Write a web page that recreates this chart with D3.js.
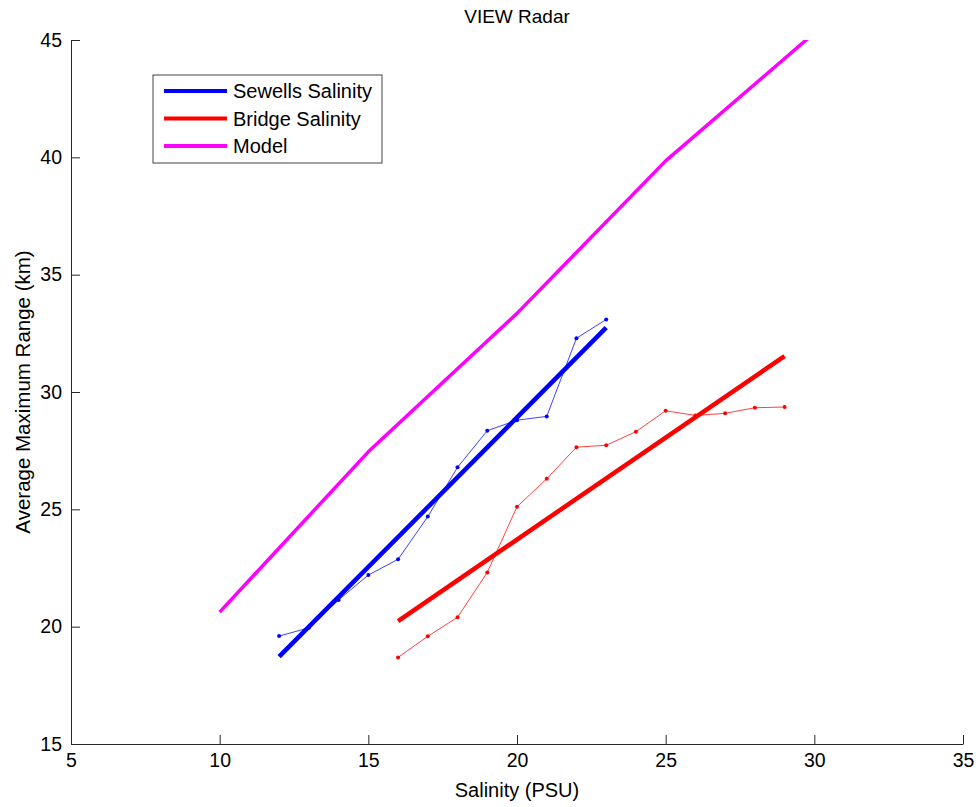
<!DOCTYPE html>
<html>
<head>
<meta charset="utf-8">
<script src="https://cdn.jsdelivr.net/npm/d3@7"></script>
<style>
  body { margin: 0; background: #fff; }
  svg { display: block; font-family: "Liberation Sans", Arial, sans-serif; }
</style>
</head>
<body>
<svg id="chart" width="979" height="807"></svg>
<script>
// measured salinity vs range
const sewellsX = [12, 13, 14, 15, 16, 17, 18, 19, 20, 21, 22, 23];
const sewellsY = [19.6, 19.95, 21.14, 22.2, 22.87, 24.69, 26.79, 28.35, 28.8, 28.96, 32.29, 33.09];
const bridgeX = [16, 17, 18, 19, 20, 21, 22, 23, 24, 25, 26, 27, 28, 29];
const bridgeY = [18.69, 19.59, 20.4, 22.31, 25.11, 26.3, 27.65, 27.73, 28.31, 29.2, 29.0, 29.09, 29.33, 29.36];

// fitted lines (end points)
const sewellsFitX = [12, 23];
const sewellsFitY = [18.72, 32.74];
const bridgeFitX = [16, 29];
const bridgeFitY = [20.24, 31.53];

// model curve
const modelX = [10, 15, 20, 25, 30];
const modelY = [20.62, 27.45, 33.35, 39.85, 45.3];

const xTicks = [5, 10, 15, 20, 25, 30, 35];
const yTicks = [15, 20, 25, 30, 35, 40, 45];

const legendLabels = ["Sewells Salinity", "Bridge Salinity", "Model"];
const legendColors = ["#0000ff", "#ff0000", "#ff00ff"];

const margin = { top: 40, right: 16, bottom: 63, left: 71 },
  width = 979 - margin.left - margin.right,
  height = 807 - margin.top - margin.bottom;

const svg = d3.select("#chart");

const x = d3.scaleLinear().domain([5, 35]).range([0, width]);
const y = d3.scaleLinear().domain([15, 45]).range([height, 0]);

const g = svg.append("g").attr("transform", `translate(${margin.left},${margin.top})`);

g.append("clipPath").attr("id", "clip")
  .append("rect").attr("width", width).attr("height", height);

const zip = (xs, ys) => xs.map((v, i) => ({ x: v, y: ys[i] }));
const line = d3.line().x((d) => x(d.x)).y((d) => y(d.y));

const plot = g.append("g").attr("clip-path", "url(#clip)");

// thin measured lines with small markers
const thin = [
  { data: zip(sewellsX, sewellsY), color: "#0000ff" },
  { data: zip(bridgeX, bridgeY), color: "#ff0000" },
];
thin.forEach((s) => {
  plot.append("path")
    .datum(s.data)
    .attr("fill", "none")
    .attr("stroke", s.color)
    .attr("stroke-opacity", 0.75)
    .attr("stroke-width", 1)
    .attr("d", line);
  plot.append("g")
    .selectAll("circle")
    .data(s.data)
    .enter()
    .append("circle")
    .attr("cx", (d) => x(d.x))
    .attr("cy", (d) => y(d.y))
    .attr("r", 2)
    .attr("fill", s.color);
});

// thick fit / model lines
const thick = [
  { data: zip(sewellsFitX, sewellsFitY), color: "#0000ff", w: 4.5 },
  { data: zip(bridgeFitX, bridgeFitY), color: "#ff0000", w: 4.5 },
  { data: zip(modelX, modelY), color: "#ff00ff", w: 3.5 },
];
thick.forEach((s) => {
  plot.append("path")
    .datum(s.data)
    .attr("fill", "none")
    .attr("stroke", s.color)
    .attr("stroke-width", s.w)
    .attr("stroke-linejoin", "round")
    .attr("d", line);
});

// axes (ticks pointing inward)
const axisColor = "#262626";
const xAxis = g.append("g")
  .attr("transform", `translate(0,${height})`)
  .call(d3.axisBottom(x).tickValues(xTicks).tickSizeInner(-9).tickSizeOuter(0).tickPadding(20));
const yAxis = g.append("g")
  .call(d3.axisLeft(y).tickValues(yTicks).tickSizeInner(-9).tickSizeOuter(0).tickPadding(18));

[xAxis, yAxis].forEach((a) => {
  a.select(".domain").attr("stroke", axisColor);
  a.selectAll(".tick line").attr("stroke", axisColor);
  a.selectAll(".tick text")
    .attr("fill", "#000")
    .style("font-size", "19.5px")
    .style("font-family", "'Liberation Sans', Arial, sans-serif");
});
xAxis.selectAll(".tick text").attr("dy", "0.15em");
yAxis.selectAll(".tick text").attr("x", -9);

// titles
svg.append("text")
  .attr("x", margin.left + width / 2)
  .attr("y", 23)
  .attr("text-anchor", "middle")
  .style("font-size", "19px")
  .text("VIEW Radar");

svg.append("text")
  .attr("x", margin.left + width / 2)
  .attr("y", 797)
  .attr("text-anchor", "middle")
  .style("font-size", "20px")
  .text("Salinity (PSU)");

svg.append("text")
  .attr("transform", `translate(30,${margin.top + height / 2}) rotate(-90)`)
  .attr("text-anchor", "middle")
  .style("font-size", "20.5px")
  .text("Average Maximum Range (km)");

// legend
const legend = svg.append("g").attr("transform", "translate(153,75)");
legend.append("rect")
  .attr("width", 229)
  .attr("height", 88)
  .attr("fill", "#fff")
  .attr("stroke", "#444")
  .attr("stroke-width", 1);
legendLabels.forEach((label, i) => {
  const yy = 16 + i * 27.5;
  legend.append("line")
    .attr("x1", 11).attr("x2", 74)
    .attr("y1", yy).attr("y2", yy)
    .attr("stroke", legendColors[i])
    .attr("stroke-width", 4);
  legend.append("text")
    .attr("x", 80)
    .attr("y", yy + 7)
    .style("font-size", "20px")
    .text(label);
});
</script>
</body>
</html>
